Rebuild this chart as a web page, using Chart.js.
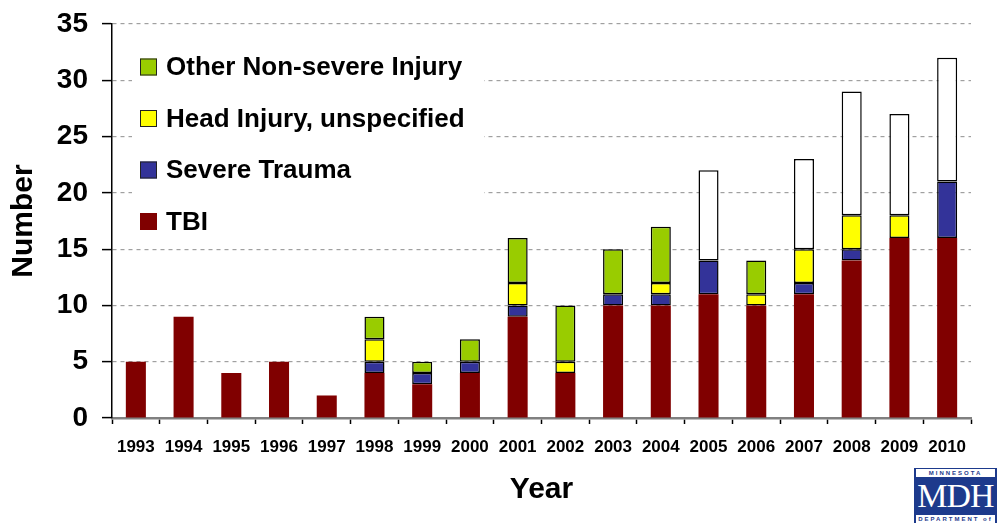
<!DOCTYPE html>
<html>
<head>
<meta charset="utf-8">
<script src="https://cdn.jsdelivr.net/npm/chart.js@4"></script>
<style>
  body { margin: 0; background: #fff; }
  #wrap { position: relative; width: 997px; height: 523px; }
  #logo {
    position: absolute; left: 914px; top: 468px; width: 83px; height: 55px;
    background: #1d3a8c; color: #fff; font-family: "Liberation Serif", serif;
    text-align: center; overflow: hidden;
  }
  #logo .small { font-family: "Liberation Sans", Arial, sans-serif; font-size: 6px; font-weight: bold; letter-spacing: 2px; line-height: 8px; background: #fff; color: #1d3a8c; margin: 1px 2px; }
  #logo .big { font-size: 34px; line-height: 36px; letter-spacing: -1px; }
</style>
</head>
<body>
<div id="wrap">
  <canvas id="canvas" width="997" height="523"></canvas>
  <div id="logo"><div class="small">MINNESOTA</div><div class="big">MDH</div><div class="small">DEPARTMENT of HEALTH</div></div>
</div>
<script>
const years = ["1993", "1994", "1995", "1996", "1997", "1998", "1999", "2000", "2001",
  "2002", "2003", "2004", "2005", "2006", "2007", "2008", "2009", "2010"]

const tbi = [5, 9, 4, 5, 2, 4, 3, 4, 9, 4, 10, 10, 11, 10, 11, 14, 16, 16]
const severeTrauma = [null, null, null, null, null, 1, 1, 1, 1, null, 1, 1, 3, null, 1, 1, null, 5]
const headInjury = [null, null, null, null, null, 2, null, null, 2, 1, null, 1, null, 1, 3, 3, 2, null]
const otherNonSevere = [null, null, null, null, null, 2, 1, 2, 4, 5, 4, 5, null, 3, null, null, null, null]
// top segments with no fill in the original (not in the legend)
const unfilled = [null, null, null, null, null, null, null, null, null, null, null, null, 8, null, 8, 11, 9, 11]

const yTicks = [0, 5, 10, 15, 20, 25, 30, 35]

const fontFamily = "'Liberation Sans', Arial, sans-serif"

// legend drawn inside the plot, like the original
const insideLegend = {
  id: "insideLegend",
  afterDraw(chart) {
    const ctx = chart.ctx
    const area = chart.chartArea
    const items = chart.data.datasets.filter((d) => !d.noLegend).reverse()
    ctx.save()
    ctx.fillStyle = "#fff"
    ctx.fillRect(area.left + 20, area.top + 20, 352, 196)
    ctx.font = "bold 26px " + fontFamily
    ctx.textBaseline = "middle"
    for (let i = 0; i < items.length; i++) {
      const y = area.top + 43 + i * 51.5
      ctx.fillStyle = items[i].backgroundColor
      ctx.fillRect(area.left + 28, y - 8.5, 17, 17)
      if (items[i].borderWidth) {
        ctx.strokeStyle = "#222"
        ctx.lineWidth = 1
        ctx.strokeRect(area.left + 28.5, y - 8, 16, 16)
      }
      ctx.fillStyle = "#000"
      ctx.fillText(items[i].label, area.left + 54, y + 1)
    }
    ctx.restore()
  }
}

function makeSet(label, data, color, border) {
  return {
    label: label,
    data: data,
    backgroundColor: color,
    borderColor: "#000",
    borderWidth: border,
    borderSkipped: false,
    categoryPercentage: 1,
    barPercentage: 0.42
  }
}

const unfilledSet = makeSet("Other", unfilled, "#ffffff", 1.5)
unfilledSet.noLegend = true

const ctx = document.getElementById("canvas")

new Chart(ctx, {
  type: "bar",
  data: {
    labels: years,
    datasets: [
      makeSet("TBI", tbi, "#800000", 0),
      makeSet("Severe Trauma", severeTrauma, "#333399", 1.5),
      makeSet("Head Injury, unspecified", headInjury, "#ffff00", 1.5),
      makeSet("Other Non-severe Injury", otherNonSevere, "#99cc00", 1.5),
      unfilledSet
    ]
  },
  options: {
    responsive: false,
    animation: false,
    layout: { padding: { top: 24, right: 26, bottom: 0, left: 0 } },
    plugins: {
      legend: { display: false },
      tooltip: { enabled: false }
    },
    scales: {
      x: {
        stacked: true,
        grid: { offset: true, drawOnChartArea: false, tickLength: 6, tickColor: "#000", tickWidth: 1.5 },
        border: { color: "#808080", width: 2.5 },
        ticks: { color: "#000", padding: 13, maxRotation: 0, autoSkip: false, font: { family: fontFamily, size: 17, weight: "bold" } },
        title: { display: true, text: "Year", color: "#000", padding: { top: 0, bottom: 15 }, font: { family: fontFamily, size: 30, weight: "bold" } },
        afterFit(scale) { scale.height = 105 }
      },
      y: {
        stacked: true,
        min: 0,
        max: 35,
        afterBuildTicks(scale) { scale.ticks = yTicks.map((v) => ({ value: v })) },
        grid: { color: "#a0a0a0", lineWidth: 1.2, tickLength: 10, tickColor: "#000", tickWidth: 1.5 },
        border: { color: "#000", width: 1.5, dash: [4, 4] },
        ticks: { color: "#000", padding: 14, font: { family: fontFamily, size: 28, weight: "bold" } },
        title: { display: true, text: "Number", color: "#000", padding: { top: 6, bottom: 0 }, font: { family: fontFamily, size: 30, weight: "bold" } },
        afterFit(scale) {
          scale.width = 112
          // let the layout padding decide where the plot starts
          scale.paddingTop = 0
          scale.paddingBottom = 0
        }
      }
    }
  },
  plugins: [insideLegend]
});
</script>
</body>
</html>
